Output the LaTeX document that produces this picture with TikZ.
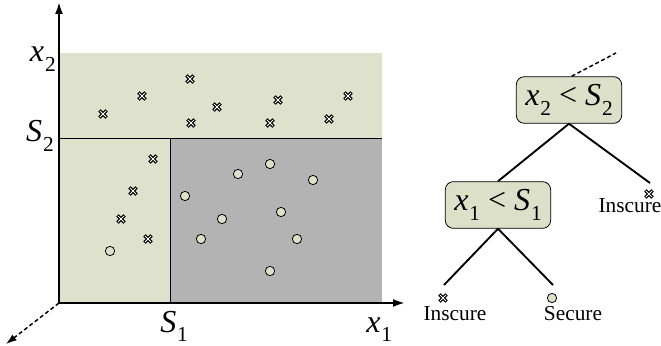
\documentclass[tikz,border=0pt]{standalone}
\usepackage{fontspec}
\setmainfont{Liberation Serif}
\usetikzlibrary{arrows.meta}
\definecolor{lightreg}{RGB}{222,226,205}
\definecolor{darkreg}{RGB}{179,179,179}
\definecolor{boxfill}{RGB}{221,224,200}
\newcommand{\vsub}[2]{{\itshape #1}\kern0.03em\raisebox{-0.3em}{\fontsize{16}{16}\selectfont #2}}
\begin{document}
\begin{tikzpicture}[x=0.75pt,y=-0.75pt,
  axis/.style={line width=1.6pt,-{Latex[length=9pt,width=6pt]}},
  zaxis/.style={line width=1.1pt,dash pattern=on 3pt off 2pt,-{Latex[length=8pt,width=5.5pt]}},
  split/.style={line width=0.7pt},
  branch/.style={line width=1.4pt},
  lab/.style={inner sep=0pt,font=\fontsize{24}{26}\selectfont},
  testbox/.style={draw,line width=0.6pt,fill=boxfill,rounded corners=6pt,minimum width=79pt,minimum height=35pt,inner sep=0pt,font=\fontsize{24}{26}\selectfont},
  leaftext/.style={inner sep=0pt,font=\fontsize{16}{18}\selectfont},
  ins/.style={minimum size=9pt,inner sep=0pt,path picture={
    \draw[line width=2.5pt,black] ([shift={(-2.7pt,-2.7pt)}]path picture bounding box.center) -- ([shift={(2.7pt,2.7pt)}]path picture bounding box.center);
    \draw[line width=2.5pt,black] ([shift={(-2.7pt,2.7pt)}]path picture bounding box.center) -- ([shift={(2.7pt,-2.7pt)}]path picture bounding box.center);
    \draw[line width=0.7pt,white] ([shift={(-2.2pt,-2.2pt)}]path picture bounding box.center) -- ([shift={(2.2pt,2.2pt)}]path picture bounding box.center);
    \draw[line width=0.7pt,white] ([shift={(-2.2pt,2.2pt)}]path picture bounding box.center) -- ([shift={(2.2pt,-2.2pt)}]path picture bounding box.center);
  }},
  sec/.style={circle,draw,line width=0.6pt,fill=boxfill,minimum size=7pt,inner sep=0pt}]
\useasboundingbox (0,0) rectangle (661,346);
% regions
\fill[lightreg] (59,53) rectangle (382,303);
\fill[darkreg] (170,138) rectangle (382,303);
\draw[split] (59,138) -- (382,138);
\draw[split] (170,138) -- (170,303);
% axes
\coordinate (o) at (59,303);
\coordinate (ytip) at (59,2);
\coordinate (xtip) at (405,303);
\coordinate (ztip) at (6,344);
\draw[axis] (o) -- (ytip);
\draw[axis] (o) -- (xtip);
\draw[zaxis] (o) -- (ztip);
% axis labels
\node[lab,anchor=base east] (lx2) at (56,62) {\vsub{x}{2}};
\node[lab,anchor=base east] (ls2) at (54,142) {\vsub{S}{2}};
\node[lab,anchor=base west] (ls1) at (160,332) {\vsub{S}{1}};
\node[lab,anchor=base west] (lx1) at (366,332) {\vsub{x}{1}};
% insecure points
\foreach \p/\q [count=\i] in {103/114,142/96,190/79,191/123,217/107,278/100,270/123,329/119,348/96,153/159,133/191,121/219,148/239}
  \node[ins] (k\i) at (\p,\q) {};
% secure points
\foreach \p/\q [count=\i] in {110/251,185/196,201/239,222/219,238/174,270/164,281/212,297/239,313/180,270/271}
  \node[sec] (c\i) at (\p,\q) {};
% tree
\node[testbox] (r) at (569,100) {\vsub{x}{2} < \vsub{S}{2}};
\node[testbox] (l) at (498,205) {\vsub{x}{1} < \vsub{S}{1}};
\coordinate (up) at (616,53);
\draw[branch,dash pattern=on 3pt off 2pt,line width=1.1pt] ([xshift=2pt]r.north) -- (up);
\coordinate (re) at (650,183);
\coordinate (lle) at (444,285);
\coordinate (lre) at (553,285);
\draw[branch] (r.south) -- (l.north);
\draw[branch] (r.south) -- (re);
\draw[branch] (l.south) -- (lle);
\draw[branch] (l.south) -- (lre);
\node[ins] (kr) at (649,194) {};
\node[leaftext] (tr) at (630,206) {Inscure};
\node[ins] (kl) at (443,298) {};
\node[leaftext] (tl) at (455,314) {Inscure};
\node[sec] (cs) at (552,298) {};
\node[leaftext] (ts) at (573,314) {Secure};
\end{tikzpicture}
\end{document}
